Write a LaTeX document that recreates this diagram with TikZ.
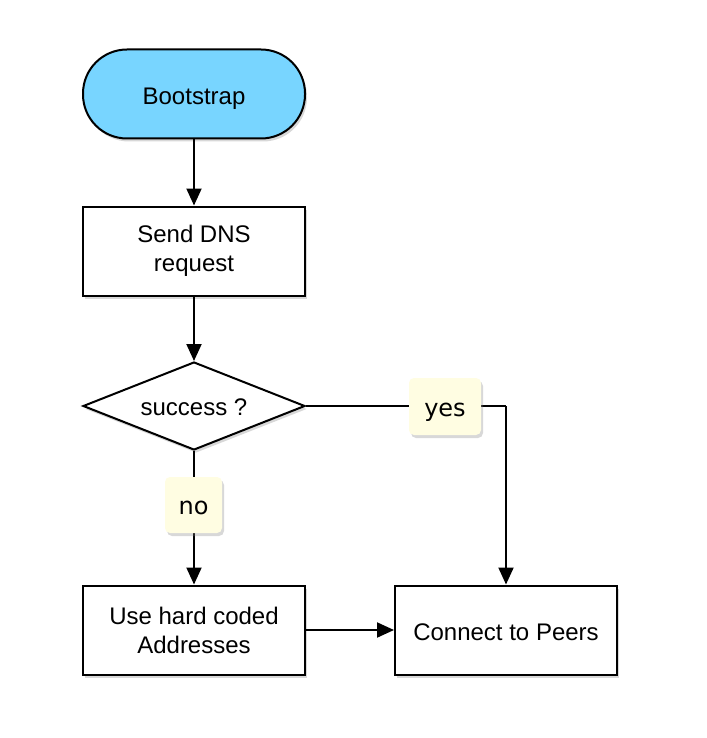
\documentclass[tikz,border=0pt]{standalone}
\usepackage{fontspec}
\setmainfont{Liberation Sans}
\newfontfamily\labelfont{DejaVu Sans}
\usetikzlibrary{arrows.meta,shapes.geometric,shadows}
\definecolor{startblue}{HTML}{78D5FF}
\definecolor{labelcream}{HTML}{FFFDE2}
\begin{document}
\begin{tikzpicture}[x=1pt,y=-1pt,
  shad/.style={drop shadow={opacity=0.3,shadow xshift=2pt,shadow yshift=-3pt}},
  base/.style={draw=black, line width=2pt, font=\fontsize{24}{29}\selectfont, align=center, inner sep=0pt, shad},
  box/.style={base, rectangle, fill=white, minimum width=222pt, minimum height=89pt},
  startnode/.style={base, rectangle, rounded corners=44pt, fill=startblue, minimum width=222pt, minimum height=89pt},
  decision/.style={base, diamond, aspect=2.52, fill=white, minimum width=222pt, minimum height=88pt},
  lbl/.style={fill=labelcream, rounded corners=5pt, inner sep=0pt, font=\labelfont\fontsize{24}{28}\selectfont, text depth=0pt, shad},
  conn/.style={line width=2pt, -{Triangle[length=17pt,width=15pt]}},
  plain/.style={line width=2pt}
]
\fill[white] (0,0) rectangle (706,738);
\useasboundingbox (0,0) rectangle (706,738);

\node[startnode, text height=22pt, text depth=0pt] (boot) at (194,94) {Bootstrap};
\node[box] (dns) at (194,251) {Send DNS\\request};
\node[decision, text height=18pt, text depth=0pt] (succ) at (194,406) {success ?};
\node[box] (hard) at (194,630) {Use hard coded\\Addresses};
\node[box, text height=21pt, text depth=0pt] (peers) at (506,630) {Connect to Peers};
\coordinate (corner) at (506,406);

\draw[conn] (boot) -- (dns);
\draw[conn] (dns) -- (succ);
\draw[conn] (succ) -- (hard);
\draw[plain] (succ.east) -- (corner);
\draw[conn] (corner) -- (peers);
\draw[conn] (hard) -- (peers);

\node[lbl, minimum width=72pt, minimum height=57pt, text height=19pt] (yes) at (445,406.5) {yes};
\node[lbl, minimum width=57pt, minimum height=56pt, text height=18pt] (no) at (193.5,505) {no};
\end{tikzpicture}
\end{document}
